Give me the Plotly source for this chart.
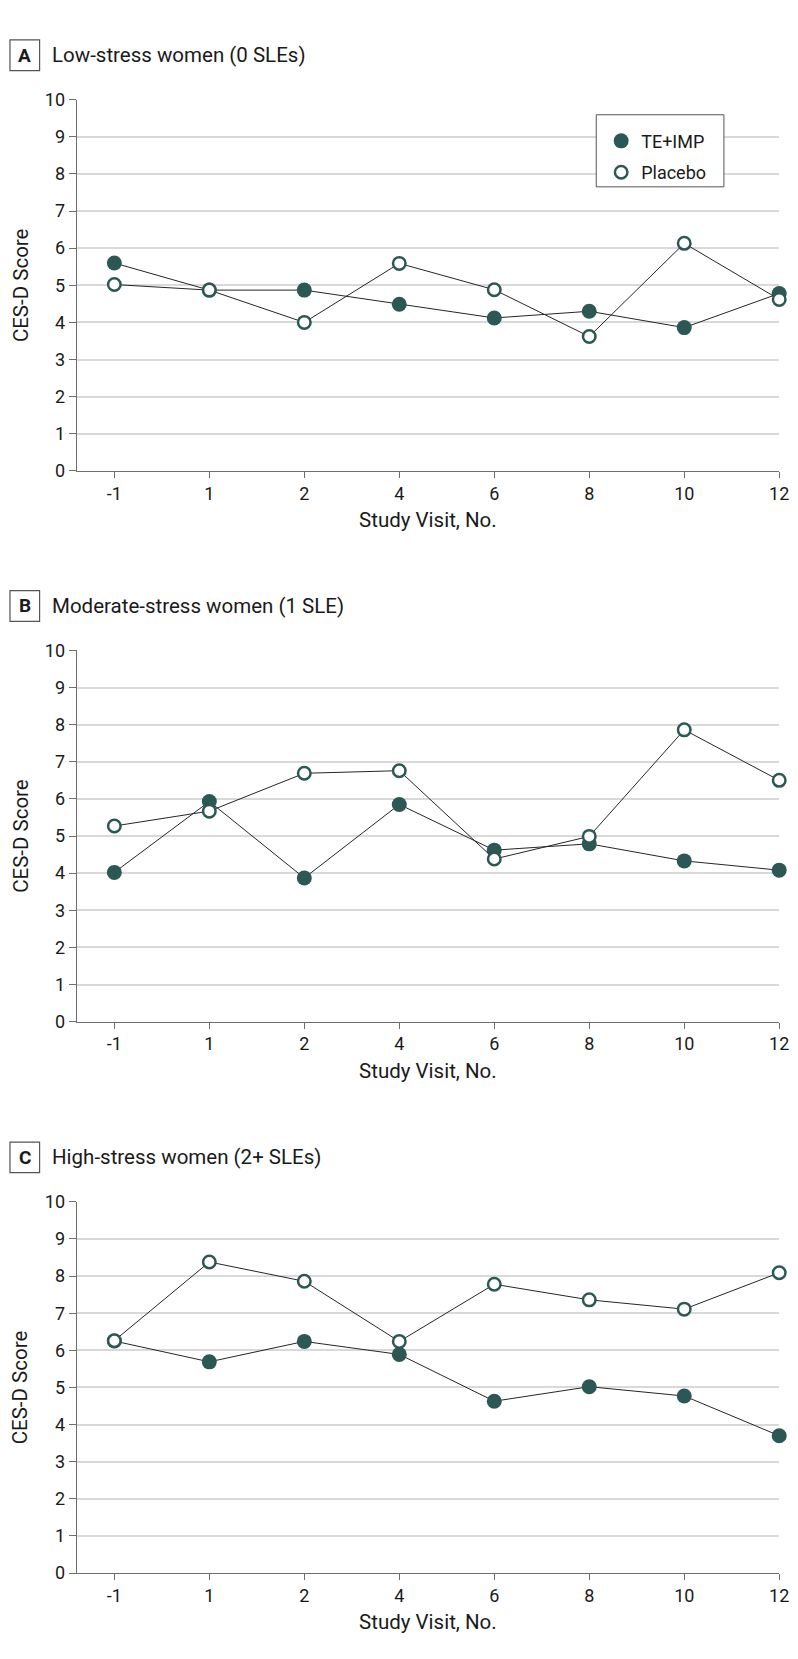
import plotly.graph_objects as go

# ---------------- data ----------------
visits = ["-1", "1", "2", "4", "6", "8", "10", "12"]

low_te_imp = [5.60, 4.87, 4.87, 4.49, 4.12, 4.30, 3.86, 4.78]
low_placebo = [5.02, 4.87, 4.00, 5.59, 4.88, 3.62, 6.13, 4.62]

mod_te_imp = [4.02, 5.93, 3.87, 5.85, 4.62, 4.79, 4.33, 4.08]
mod_placebo = [5.27, 5.67, 6.69, 6.76, 4.38, 4.99, 7.86, 6.50]

high_te_imp = [6.25, 5.69, 6.24, 5.89, 4.63, 5.02, 4.77, 3.70]
high_placebo = [6.26, 8.38, 7.86, 6.24, 7.78, 7.36, 7.11, 8.09]

panel_letters = ["A", "B", "C"]
panel_titles = ["Low-stress women (0 SLEs)", "Moderate-stress women (1 SLE)",
                "High-stress women (2+ SLEs)"]
series_names = ["TE+IMP", "Placebo"]
y_title = "CES-D Score"
x_title = "Study Visit, No."

# ---------------- layout constants ----------------
W, H = 798, 1659
FONT = "Roboto"
TEAL = "#2b5854"
LINE = "#262626"
GRID = "#d9d9d9"
AXIS = "#6e6e6e"
TXT = "#1a1a1a"

x_left_px, x_right_px = 69.7, 781.0
panel_px = [(81.7, 457.7), (639.5, 1015.5), (1198.0, 1574.0)]  # (top, bottom)


def fx(px):
    return px / W


def fy(px):
    return 1 - px / H


fig = go.Figure()
data = [(low_te_imp, low_placebo), (mod_te_imp, mod_placebo), (high_te_imp, high_placebo)]

for i, (te, pl) in enumerate(data):
    xa = "x" if i == 0 else f"x{i+1}"
    ya = "y" if i == 0 else f"y{i+1}"
    fig.add_trace(go.Scatter(
        x=visits, y=te, mode="lines+markers", xaxis=xa, yaxis=ya,
        name=series_names[0], showlegend=False, cliponaxis=False,
        line=dict(color=LINE, width=1),
        marker=dict(size=15, color=TEAL, line=dict(width=0)),
    ))
    fig.add_trace(go.Scatter(
        x=visits, y=pl, mode="lines+markers", xaxis=xa, yaxis=ya,
        name=series_names[1], showlegend=False, cliponaxis=False,
        line=dict(color=LINE, width=1),
        marker=dict(size=12.5, color="white", line=dict(width=2.5, color=TEAL)),
    ))

# legend-only entries (markers only)
fig.add_trace(go.Scatter(x=[None], y=[None], mode="markers", name=series_names[0],
                         legendgroup="g1",
                         marker=dict(size=15, color=TEAL, line=dict(width=0))))
fig.add_trace(go.Scatter(x=[None], y=[None], mode="markers", name=series_names[1],
                         legendgroup="g2",
                         marker=dict(size=12.5, color="white", line=dict(width=2.5, color=TEAL))))

layout = dict(
    width=W, height=H, margin=dict(l=0, r=0, t=0, b=0),
    paper_bgcolor="white", plot_bgcolor="white",
    font=dict(family=FONT, size=18, color=TXT),
    showlegend=True,
    legend=dict(x=fx(600.7), y=fy(105), xanchor="left", yanchor="top",
                borderwidth=0, bgcolor="rgba(0,0,0,0)",
                font=dict(family=FONT, size=18, color=TXT),
                itemwidth=30, tracegroupgap=5),
)

shapes = []
annotations = []

# legend frame
shapes.append(dict(type="rect", xref="paper", yref="paper", layer="above",
                   x0=fx(595.7), x1=fx(725), y0=fy(170), y1=fy(97),
                   line=dict(color="#555555", width=1), fillcolor="white"))

for i, (top, bot) in enumerate(panel_px):
    xk = "xaxis" if i == 0 else f"xaxis{i+1}"
    yk = "yaxis" if i == 0 else f"yaxis{i+1}"
    xa = "x" if i == 0 else f"x{i+1}"
    ya = "y" if i == 0 else f"y{i+1}"
    layout[xk] = dict(
        domain=[fx(x_left_px), fx(x_right_px)], anchor=ya,
        type="category", range=[-0.395, 7],
        showgrid=False, zeroline=False,
        showline=True, linecolor=AXIS, linewidth=1.3,
        ticks="outside", ticklen=6, tickwidth=1.2, tickcolor=AXIS,
        tickfont=dict(family=FONT, size=18, color=TXT),
        fixedrange=True,
    )
    layout[yk] = dict(
        domain=[fy(bot), fy(top)], anchor=xa,
        range=[0, 10], tick0=0, dtick=1,
        showgrid=True, gridcolor=GRID, gridwidth=1.5,
        zeroline=False,
        showline=True, linecolor=AXIS, linewidth=1.3,
        ticks="outside", ticklen=7, tickwidth=1.2, tickcolor=AXIS,
        tickfont=dict(family=FONT, size=18, color=TXT),
        fixedrange=True,
    )
    # panel letter box
    cy = top - 45
    shapes.append(dict(type="rect", xref="paper", yref="paper",
                       x0=fx(2), x1=fx(32), y0=fy(cy + 15.5), y1=fy(cy - 15.5),
                       line=dict(color="#555555", width=1.2), fillcolor="white"))
    annotations.append(dict(text=f"<b>{panel_letters[i]}</b>", xref="paper", yref="paper",
                            x=fx(17), y=fy(cy), xanchor="center", yanchor="middle",
                            showarrow=False, font=dict(family=FONT, size=19, color=TXT)))
    annotations.append(dict(text=panel_titles[i], xref="paper", yref="paper",
                            x=fx(43), y=fy(cy), xanchor="left", yanchor="middle",
                            showarrow=False, font=dict(family=FONT, size=20.5, color=TXT)))
    # y title
    annotations.append(dict(text=y_title, xref="paper", yref="paper",
                            x=fx(13), y=fy((top + bot) / 2), xanchor="center", yanchor="middle",
                            textangle=-90, showarrow=False,
                            font=dict(family=FONT, size=20.5, color=TXT)))
    # x title
    annotations.append(dict(text=x_title, xref="paper", yref="paper",
                            x=fx((x_left_px + x_right_px) / 2), y=fy(bot + 50),
                            xanchor="center", yanchor="middle", showarrow=False,
                            font=dict(family=FONT, size=20.5, color=TXT)))

layout["shapes"] = shapes
layout["annotations"] = annotations
fig.update_layout(**layout)

fig.write_html("out.html")
